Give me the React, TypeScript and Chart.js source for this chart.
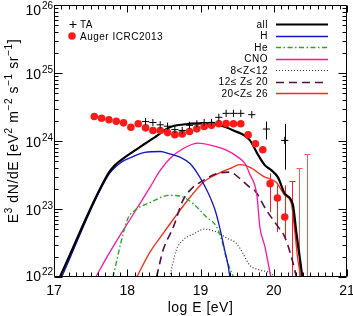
import { useEffect, useRef } from "react";
import { Chart, registerables } from "chart.js";
Chart.register(...registerables);

const FONT = "'Liberation Sans', Arial, Helvetica, sans-serif";

// ---- data: Auger ICRC2013 ----
const augerLogE = [17.55, 17.65, 17.75, 17.85, 17.95, 18.05, 18.15, 18.25, 18.35, 18.45, 18.55, 18.65, 18.75, 18.85, 18.95, 19.05, 19.15, 19.25, 19.35, 19.45, 19.55, 19.65, 19.75, 19.85, 19.95, 20.05, 20.15];
const augerFlux = [2.29e24, 2.16e24, 2.05e24, 1.95e24, 1.85e24, 1.59e24, 1.79e24, 1.56e24, 1.43e24, 1.43e24, 1.33e24, 1.24e24, 1.27e24, 1.38e24, 1.51e24, 1.63e24, 1.70e24, 1.79e24, 1.80e24, 1.79e24, 1.79e24, 1.23e24, 9.1e23, 7.43e23, 2.36e23, 1.45e23, 7.64e22];
const augerErrLogE = [19.95, 20.05, 20.15];
const augerErrHi = [3.34e23, 2.23e23, 2.23e23];
const augerErrLo = [8.96e22, 4.56e22, 3.48e22];
const augerLimitLogE = [20.25, 20.35, 20.45];
const augerLimitFlux = [2.55e23, 3.99e23, 6.49e23];

// ---- data: TA ----
const taLogE = [18.25, 18.35, 18.45, 18.55, 18.65, 18.75, 18.85, 18.95, 19.05, 19.15, 19.25, 19.35, 19.45, 19.55, 19.7, 19.9, 20.15];
const taFlux = [1.93e24, 1.87e24, 1.73e24, 1.65e24, 1.47e24, 1.43e24, 1.70e24, 1.79e24, 1.87e24, 1.87e24, 2.23e24, 2.55e24, 2.55e24, 2.55e24, 2.44e24, 1.50e24, 1.02e24];
const taErrLogE = [19.9, 20.15];
const taErrHi = [1.93e24, 1.79e24];
const taErrLo = [1.05e24, 3.78e23];

// ---- model curves ----
const allLogE = [17.08, 17.74, 17.83, 17.97, 18.105, 18.24, 18.38, 18.58, 18.76, 18.99, 19.22, 19.45, 19.67, 19.79, 19.88, 19.97, 20.06, 20.15, 20.26, 20.31, 20.36, 20.39];
const allFlux = [1.0e22, 3.31e23, 4.38e23, 5.79e23, 7.26e23, 9.1e23, 1.14e24, 1.59e24, 1.75e24, 1.82e24, 1.75e24, 1.43e24, 1.04e24, 6.14e23, 4.38e23, 3.70e23, 2.89e23, 1.68e23, 1.17e23, 4.37e22, 1.77e22, 1.0e22];

const hLogE = [17.105, 17.74, 17.92, 18.06, 18.24, 18.45, 18.58, 18.72, 18.86, 18.99, 19.11, 19.2, 19.26, 19.33, 19.38, 19.4];
const hFlux = [1.0e22, 3.13e23, 4.89e23, 5.79e23, 6.79e23, 7.01e23, 6.49e23, 5.79e23, 4.63e23, 2.95e23, 1.68e23, 9.59e22, 5.46e22, 2.49e22, 1.42e22, 1.0e22];

const heLogE = [17.805, 17.945, 18.01, 18.105, 18.31, 18.58, 18.76, 18.9, 19.08, 19.22, 19.29, 19.36, 19.45];
const heFlux = [1.0e22, 4.37e22, 7.31e22, 9.59e22, 1.24e23, 1.59e23, 1.50e23, 1.20e23, 7.64e22, 5.46e22, 3.48e22, 1.77e22, 1.0e22];

const cnoLogE = [17.57, 17.76, 18.08, 18.31, 18.45, 18.58, 18.76, 18.97, 19.15, 19.36, 19.51, 19.61, 19.67, 19.77, 19.81, 19.88, 19.96];
const cnoFlux = [1.0e22, 2.3e22, 8.3e22, 2.08e23, 3.70e23, 5.48e23, 7.69e23, 9.29e23, 8.59e23, 7.26e23, 5.79e23, 4.63e23, 3.30e23, 1.59e23, 5.46e22, 2.78e22, 1.0e22];

const naLogE = [18.58, 18.67, 18.76, 18.9, 19.05, 19.22, 19.36, 19.49, 19.58, 19.67, 19.81, 19.95, 20.02];
const naFlux = [1.0e22, 2.49e22, 3.48e22, 4.27e22, 5.05e22, 4.61e22, 3.72e22, 3.12e22, 2.22e22, 1.50e22, 1.27e22, 1.15e22, 1.0e22];

const siLogE = [18.4, 18.49, 18.63, 18.76, 18.88, 19.04, 19.22, 19.4, 19.54, 19.67, 19.74, 19.9, 20.06, 20.15, 20.24, 20.31];
const siFlux = [1.0e22, 2.49e22, 5.46e22, 1.34e23, 2.0e23, 2.64e23, 3.30e23, 3.49e23, 2.79e23, 2.10e23, 1.88e23, 9.59e22, 5.46e22, 3.89e22, 1.98e22, 1.0e22];

const feLogE = [18.13, 18.31, 18.49, 18.67, 18.86, 19.04, 19.22, 19.4, 19.54, 19.67, 19.86, 20.04, 20.15, 20.24, 20.29, 20.33, 20.37];
const feFlux = [1.0e22, 2.32e22, 4.37e22, 8.09e22, 1.50e23, 2.47e23, 3.23e23, 3.92e23, 4.48e23, 4.13e23, 3.02e23, 2.43e23, 1.59e23, 1.20e23, 4.37e22, 1.77e22, 1.0e22];

const xTickLabels = ["17", "18", "19", "20", "21"];
const yTickExponents = ["22", "23", "24", "25", "26"];

const COL = {
  all: "#000000",
  h: "#1414c8",
  he: "#22aa22",
  cno: "#ff14a0",
  na: "#333333",
  si: "#50104a",
  fe: "#ff2a14",
  auger: "#ff1a1a",
};

const zip = (xs: number[], ys: number[]) => xs.map((x, i) => ({ x, y: ys[i] }));

const legendItems = [
  { label: "all", color: COL.all, width: 2, dash: [] as number[] },
  { label: "H", color: COL.h, width: 1.4, dash: [] },
  { label: "He", color: COL.he, width: 1.4, dash: [5, 2.5, 1.5, 2.5] },
  { label: "CNO", color: COL.cno, width: 1.4, dash: [] },
  { label: "8<Z<12", color: COL.na, width: 1.2, dash: [1, 2] },
  { label: "12\u2264 Z\u2264 20", color: COL.si, width: 1.6, dash: [8, 5] },
  { label: "20<Z\u2264 26", color: COL.fe, width: 1.4, dash: [] },
];

function line(label: string, xs: number[], ys: number[], color: string, width: number, dash: number[], order: number) {
  return {
    type: "line" as const,
    label,
    data: zip(xs, ys),
    borderColor: color,
    backgroundColor: color,
    borderWidth: width,
    borderDash: dash,
    pointRadius: 0,
    showLine: true,
    fill: false,
    cubicInterpolationMode: "monotone",
    order,
  };
}

const overlay = {
  id: "overlay",
  beforeDatasetsDraw(chart: any) {
    const { ctx, chartArea: a, scales } = chart;
    const x = scales.x, y = scales.y;
    ctx.save();
    ctx.beginPath();
    ctx.rect(a.left, a.top, a.right - a.left, a.bottom - a.top);
    ctx.clip();
    ctx.lineWidth = 1;
    ctx.strokeStyle = COL.auger;
    augerErrLogE.forEach((e, i) => {
      const px = Math.round(x.getPixelForValue(e)) + 0.5;
      ctx.beginPath();
      ctx.moveTo(px, y.getPixelForValue(augerErrHi[i]));
      ctx.lineTo(px, y.getPixelForValue(augerErrLo[i]));
      ctx.stroke();
    });
    augerLimitLogE.forEach((e, i) => {
      const px = Math.round(x.getPixelForValue(e)) + 0.5;
      const py = Math.round(y.getPixelForValue(augerLimitFlux[i])) + 0.5;
      ctx.strokeStyle = i === 0 ? "#ff2020" : "#ff5a5a";
      ctx.beginPath();
      ctx.moveTo(px, py);
      ctx.lineTo(px, a.bottom);
      ctx.moveTo(px - 3, py);
      ctx.lineTo(px + 3, py);
      ctx.stroke();
    });
    ctx.strokeStyle = "#000";
    taErrLogE.forEach((e, i) => {
      const px = Math.round(x.getPixelForValue(e)) + 0.5;
      ctx.beginPath();
      ctx.moveTo(px, y.getPixelForValue(taErrHi[i]));
      ctx.lineTo(px, y.getPixelForValue(taErrLo[i]));
      ctx.stroke();
    });
    ctx.restore();
  },
  afterDraw(chart: any) {
    const { ctx, chartArea: a, scales } = chart;
    const x = scales.x, y = scales.y;
    ctx.save();
    ctx.strokeStyle = "#000";
    ctx.lineWidth = 1;
    ctx.setLineDash([]);
    const L = a.left + 0.5, R = a.right - 0.5, T = a.top + 0.5, B = a.bottom - 0.5;
    ctx.beginPath();
    ctx.rect(L, T, R - L, B - T);
    ctx.stroke();
    ctx.beginPath();
    for (let i = 0; i <= 40; i++) {
      const v = 17 + i * 0.1;
      const px = Math.round(x.getPixelForValue(v)) + 0.5;
      const len = i % 10 === 0 ? 7 : 4;
      ctx.moveTo(px, B);
      ctx.lineTo(px, B - len);
      ctx.moveTo(px, T);
      ctx.lineTo(px, T + len);
    }
    for (let d = 22; d <= 26; d++) {
      for (let m = 1; m <= 9; m++) {
        if (d === 26 && m > 1) break;
        const v = m * Math.pow(10, d);
        const py = Math.round(y.getPixelForValue(v)) + 0.5;
        const len = m === 1 ? 8 : 4;
        ctx.moveTo(L, py);
        ctx.lineTo(L + len, py);
        ctx.moveTo(R, py);
        ctx.lineTo(R - len, py);
      }
    }
    ctx.stroke();

    ctx.fillStyle = "#000";
    ctx.font = `14px ${FONT}`;
    ctx.textAlign = "center";
    ctx.textBaseline = "alphabetic";
    xTickLabels.forEach((t) => {
      ctx.fillText(t, x.getPixelForValue(Number(t)), 295);
    });
    yTickExponents.forEach((ex) => {
      const py = y.getPixelForValue(Math.pow(10, Number(ex)));
      const base = Math.min(281, Math.max(15, py + 6));
      ctx.font = `14px ${FONT}`;
      ctx.textAlign = "right";
      ctx.fillText("10", 41, base);
      ctx.font = `10px ${FONT}`;
      ctx.textAlign = "left";
      ctx.fillText(ex, 42, base - 6);
    });
    (ctx as any).letterSpacing = "0.5px";
    ctx.font = `14px ${FONT}`;
    ctx.textAlign = "center";
    ctx.fillText("log E [eV]", (a.left + a.right) / 2, 312);

    const segs: [string, boolean][] = [
      ["E", false], ["3", true], [" dN/dE [eV", false], ["2", true], [" m", false],
      ["\u22122", true], [" s", false], ["\u22121", true], [" sr", false], ["\u22121", true], ["]", false],
    ];
    (ctx as any).letterSpacing = "0.6px";
    const fontFor = (sup: boolean) => (sup ? `10px ${FONT}` : `14px ${FONT}`);
    let total = 0;
    segs.forEach(([t, s]) => { ctx.font = fontFor(s); total += ctx.measureText(t).width; });
    ctx.save();
    ctx.translate(18, 131);
    ctx.rotate(-Math.PI / 2);
    ctx.textAlign = "left";
    let cx = -total / 2;
    segs.forEach(([t, s]) => {
      ctx.font = fontFor(s);
      ctx.fillText(t, cx, s ? -6 : 0);
      cx += ctx.measureText(t).width;
    });
    ctx.restore();

    (ctx as any).letterSpacing = "0.5px";
    ctx.font = `10px ${FONT}`;
    ctx.textAlign = "left";
    ctx.strokeStyle = "#000";
    ctx.beginPath();
    ctx.moveTo(69.5, 24.5); ctx.lineTo(76.5, 24.5);
    ctx.moveTo(73, 21); ctx.lineTo(73, 28);
    ctx.stroke();
    ctx.fillText("TA", 80, 28);
    ctx.fillStyle = COL.auger;
    ctx.beginPath();
    ctx.arc(72, 36, 3.8, 0, Math.PI * 2);
    ctx.fill();
    ctx.fillStyle = "#000";
    ctx.fillText("Auger ICRC2013", 80, 39.5);

    ctx.textAlign = "right";
    legendItems.forEach((it, i) => {
      const base = 27.5 + i * 11.5;
      ctx.fillStyle = "#000";
      ctx.fillText(it.label, 268, base);
      ctx.strokeStyle = it.color;
      ctx.lineWidth = it.width;
      ctx.setLineDash(it.dash);
      ctx.beginPath();
      const ly = Math.round(base - 3.5) + 0.5;
      ctx.moveTo(276, ly);
      ctx.lineTo(328, ly);
      ctx.stroke();
    });
    ctx.setLineDash([]);
    ctx.restore();
  },
};

export default function App() {
  const ref = useRef<HTMLCanvasElement>(null);
  useEffect(() => {
    if (!ref.current) return;
    const chart = new Chart(ref.current, {
      type: "scatter",
      data: {
        datasets: [
          {
            type: "scatter",
            label: "TA",
            data: zip(taLogE, taFlux),
            pointStyle: "cross",
            pointRadius: 3.6,
            borderColor: "#000",
            borderWidth: 1,
            order: 0,
          } as any,
          {
            type: "scatter",
            label: "Auger ICRC2013",
            data: zip(augerLogE, augerFlux),
            pointStyle: "circle",
            pointRadius: 3.8,
            backgroundColor: COL.auger,
            borderColor: COL.auger,
            borderWidth: 0,
            order: 1,
          } as any,
          line("all", allLogE, allFlux, COL.all, 2.2, [], 2),
          line("H", hLogE, hFlux, COL.h, 1.3, [], 3),
          line("He", heLogE, heFlux, COL.he, 1.4, [5, 2.5, 1.5, 2.5], 4),
          line("CNO", cnoLogE, cnoFlux, COL.cno, 1.3, [], 5),
          line("8<Z<12", naLogE, naFlux, COL.na, 1.2, [1, 2], 6),
          line("12\u2264 Z\u2264 20", siLogE, siFlux, COL.si, 1.6, [8, 5], 7),
          line("20<Z\u2264 26", feLogE, feFlux, COL.fe, 1.3, [], 8),
        ] as any,
      },
      options: {
        animation: false,
        responsive: false,
        events: [],
        devicePixelRatio: 1,
        layout: { padding: { left: 0, top: 4, right: 6, bottom: 0 } },
        plugins: { legend: { display: false }, tooltip: { enabled: false } },
        scales: {
          x: {
            type: "linear",
            min: 17,
            max: 21,
            grid: { display: false },
            border: { display: false },
            ticks: { display: false },
            afterFit: (s: any) => { s.height = 39; },
          },
          y: {
            type: "logarithmic",
            min: 1e22,
            max: 1e26,
            grid: { display: false },
            border: { display: false },
            ticks: { display: false },
            afterFit: (s: any) => { s.width = 54; },
          },
        },
      } as any,
      plugins: [overlay],
    });
    return () => chart.destroy();
  }, []);
  return (
    <div style={{ position: "absolute", left: 0, top: 0, width: 353, height: 316, background: "#fff" }}>
      <canvas ref={ref} width={353} height={316} style={{ width: 353, height: 316, display: "block" }} />
    </div>
  );
}
